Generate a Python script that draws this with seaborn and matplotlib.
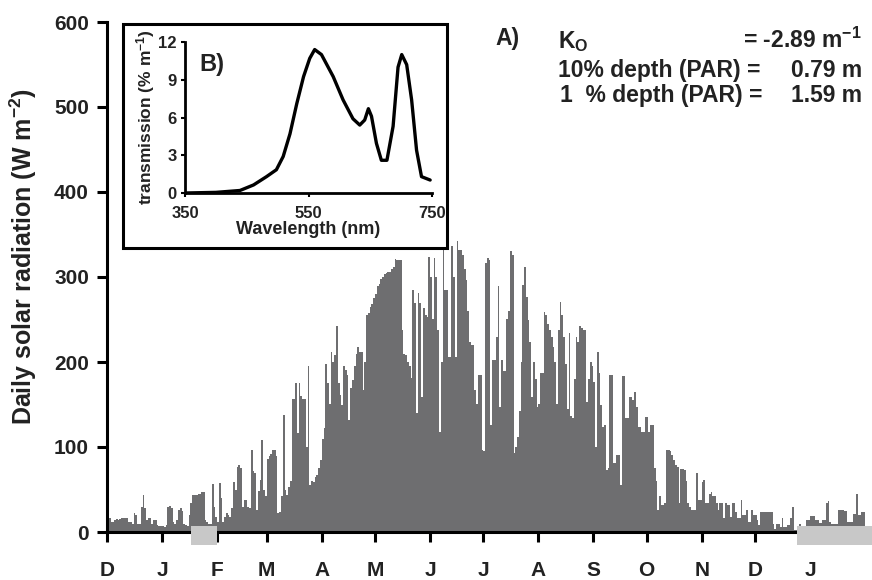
import numpy as np
import pandas as pd
import matplotlib
matplotlib.use("Agg")
import matplotlib.pyplot as plt
from matplotlib.patches import Rectangle
import seaborn as sns

# ---------------- data (daily solar radiation, W m-2) ----------------
dec_1 = [16, 16, 12, 12, 14, 15, 14, 15, 16, 17, 16, 16, 12, 12, 10, 22, 20, 10, 9, 30,
         43, 28, 14, 16, 17, 10, 14, 14, 8, 7, 7]
jan_1 = [7, 6, 8, 30, 31, 28, 12, 10, 14, 26, 28, 25, 9, 8, 7, 20, 34, 43, 44, 44,
         45, 45, 47, 47, 14, 12, 10, 10, 57, 30, 18]
feb_1 = [12, 58, 40, 12, 18, 22, 20, 18, 28, 59, 50, 76, 79, 75, 30, 38, 38, 30, 28, 96,
         72, 69, 26, 48, 61, 108, 50, 42]
mar_1 = [86, 90, 92, 96, 96, 90, 22, 24, 42, 138, 50, 44, 53, 60, 157, 157, 175, 116, 175, 160,
         157, 157, 100, 195, 55, 60, 59, 65, 67, 75, 85]
apr_1 = [110, 122, 198, 175, 151, 212, 200, 208, 242, 175, 161, 149, 195, 191, 185, 132, 170, 179, 195, 210,
         218, 212, 212, 167, 200, 255, 258, 265, 268, 275]
may_1 = [280, 289, 292, 298, 300, 304, 305, 306, 306, 310, 312, 321, 320, 320, 320, 238, 210, 208, 200, 195,
         181, 285, 270, 140, 281, 270, 159, 263, 255, 253, 323]
jun_1 = [300, 251, 322, 300, 238, 118, 200, 332, 285, 285, 206, 206, 336, 300, 206, 342, 332, 332, 326, 310,
         296, 260, 224, 220, 220, 167, 151, 185, 185, 96]
jul_1 = [95, 316, 322, 320, 126, 202, 202, 230, 289, 147, 202, 189, 189, 251, 260, 330, 326, 93, 100, 112,
         142, 200, 291, 312, 277, 250, 224, 159, 200, 180, 147]
aug_1 = [151, 187, 187, 259, 255, 245, 238, 230, 218, 200, 151, 238, 271, 255, 230, 198, 145, 234, 136, 134,
         180, 230, 224, 242, 240, 238, 238, 153, 180, 200, 195]
sep_1 = [177, 100, 212, 187, 150, 124, 126, 73, 75, 185, 185, 81, 81, 91, 91, 55, 183, 183, 134, 134,
         159, 159, 155, 165, 147, 124, 124, 118, 118, 135]
oct_1 = [135, 118, 126, 126, 75, 60, 26, 42, 32, 32, 34, 97, 97, 95, 91, 85, 79, 77, 34, 74,
         74, 73, 60, 34, 30, 26, 26, 26, 69, 38, 38]
nov_1 = [59, 61, 34, 34, 45, 47, 42, 42, 34, 26, 34, 34, 16, 34, 32, 32, 18, 34, 34, 24,
         16, 16, 38, 20, 20, 26, 12, 12, 26, 20]
dec_2 = [20, 14, 8, 24, 24, 24, 24, 24, 24, 24, 10, 4, 10, 10, 6, 16, 6, 6, 8, 8,
         17, 30, 2, 2, 0, 10, 4, 4, 4, 14, 14]
jan_2 = [19, 19, 19, 14, 14, 11, 11, 14, 14, 34, 36, 12, 10, 10, 10, 10, 26, 26, 26, 25,
         25, 12, 12, 12, 21, 21, 45, 20, 20, 24, 24]

months = [dec_1, jan_1, feb_1, mar_1, apr_1, may_1, jun_1, jul_1, aug_1, sep_1, oct_1, nov_1, dec_2, jan_2]
month_labels = ["D", "J", "F", "M", "A", "M", "J", "J", "A", "S", "O", "N", "D", "J"]

# ice-cover periods (start day, end day)
ice_start = [46.8, 388.2]
ice_end = [61.5, 432.0]

# inset B: transmission spectrum
wavelength = [350, 400, 439, 461, 482, 498, 509, 520, 531, 542, 552, 560, 571, 590, 606, 622,
              633, 641, 647, 652, 660, 668, 677, 687, 695, 701, 709, 717, 725, 733, 747]
transmission = [0.0, 0.05, 0.2, 0.64, 1.3, 1.85, 2.9, 4.7, 7.1, 9.25, 10.7, 11.4, 11.0, 9.25, 7.4, 5.9,
                5.4, 5.8, 6.7, 6.1, 3.95, 2.6, 2.6, 5.3, 10.0, 11.0, 10.2, 7.4, 3.4, 1.3, 1.03]

radiation = np.concatenate([np.array(m, dtype=float) for m in months])
days = np.arange(len(radiation))
df = pd.DataFrame({"day": days, "radiation": radiation})
month_starts = np.concatenate([[0], np.cumsum([len(m) for m in months])[:-1]]) - 0.5

# ---------------- style ----------------
sns.set_theme(style="ticks")
plt.rcParams["font.family"] = ["Liberation Sans", "DejaVu Sans"]
plt.rcParams["font.weight"] = "bold"
plt.rcParams["mathtext.fontset"] = "custom"
plt.rcParams["mathtext.rm"] = "Liberation Sans:bold"
plt.rcParams["mathtext.bf"] = "Liberation Sans:bold"
plt.rcParams["mathtext.it"] = "Liberation Sans:bold"
plt.rcParams["mathtext.default"] = "bf"

TXT = "#222222"
BAR = "#6e6e70"
ICE = "#c8c8c8"

W, H = 872, 580
fig = plt.figure(figsize=(W / 100, H / 100), dpi=100)

def fx(px):
    return px / W

def fy(py):
    return (H - py) / H

ax = fig.add_axes([fx(107), fy(532), fx(868) - fx(107), fy(22) - fy(532)])
sns.barplot(data=df, x="day", y="radiation", native_scale=True, width=1.0,
            color=BAR, saturation=1, linewidth=0, edgecolor="none", ax=ax)
ax.set_xlim(-0.5, 428.2)
ax.set_ylim(0, 600)
ax.set_yticks(np.arange(0, 601, 100))
ax.set_xticks(month_starts)
ax.set_xticklabels(month_labels)
ax.set_xlabel("")
ax.set_ylabel("Daily solar radiation (W m$^{-2}$)", fontsize=18, fontweight="bold", color=TXT)
ax.yaxis.set_label_coords(-0.09, 0.54)
for s in ["top", "right"]:
    ax.spines[s].set_visible(False)
for s in ["left", "bottom"]:
    ax.spines[s].set_linewidth(2.2)
    ax.spines[s].set_color("black")
ax.tick_params(axis="y", length=7, width=2.2, labelsize=15, colors="black", labelcolor=TXT, pad=6)
ax.tick_params(axis="x", length=7, width=2.2, labelsize=15, colors="black", labelcolor=TXT, pad=14)
for lab in ax.get_xticklabels() + ax.get_yticklabels():
    lab.set_fontweight("bold")

# ice-cover boxes under the axis
for s0, s1 in zip(ice_start, ice_end):
    ax.add_patch(Rectangle((s0, -15.3), s1 - s0, 22.3, transform=ax.transData,
                           facecolor=ICE, edgecolor="none", clip_on=False, zorder=5))

# annotations
FS = 16.5
fig.text(fx(495), fy(45), "A)", fontsize=FS, fontweight="bold", color=TXT, va="baseline")
fig.text(fx(558), fy(48), "K$_{\\mathrm{O}}$", fontsize=FS, fontweight="bold", color=TXT, va="baseline")
fig.text(fx(862), fy(48), "= -2.89 m$^{-1}$", fontsize=FS, fontweight="bold", color=TXT,
         va="baseline", ha="right")
fig.text(fx(558), fy(77), "10% depth (PAR) =", fontsize=FS, fontweight="bold", color=TXT, va="baseline")
fig.text(fx(862), fy(77), "0.79 m", fontsize=FS, fontweight="bold", color=TXT, va="baseline", ha="right")
fig.text(fx(560), fy(102), "1  % depth (PAR) =", fontsize=FS, fontweight="bold", color=TXT, va="baseline")
fig.text(fx(862), fy(102), "1.59 m", fontsize=FS, fontweight="bold", color=TXT, va="baseline", ha="right")

# inset frame
frame = Rectangle((fx(123), fy(248)), fx(447) - fx(123), fy(24) - fy(248), transform=fig.transFigure,
                  facecolor="white", edgecolor="black", linewidth=2.2, zorder=10)
fig.patches.append(frame)

axin = fig.add_axes([fx(185), fy(193), fx(432) - fx(185), fy(42) - fy(193)], zorder=11)
axin.patch.set_alpha(0)
sns.lineplot(x=wavelength, y=transmission, ax=axin, color="black", linewidth=2.4)
axin.set_xlim(350, 750)
axin.set_ylim(0, 12)
axin.set_xticks([350, 550, 750])
axin.set_yticks([0, 3, 6, 9, 12])
for s in ["top", "right"]:
    axin.spines[s].set_visible(False)
for s in ["left", "bottom"]:
    axin.spines[s].set_linewidth(2.0)
    axin.spines[s].set_color("black")
axin.tick_params(axis="both", length=3, width=1.5, labelsize=12, colors="black", labelcolor=TXT, pad=3)
axin.tick_params(axis="x", pad=6)
for lab in axin.get_xticklabels() + axin.get_yticklabels():
    lab.set_fontweight("bold")
axin.set_xlabel("Wavelength (nm)", fontsize=13, fontweight="bold", color=TXT, labelpad=0)
axin.set_ylabel("transmission (% m$^{-1}$)", fontsize=12.5, fontweight="bold", color=TXT, labelpad=1)
axin.text(0.06, 0.93, "B)", transform=axin.transAxes, fontsize=17, fontweight="bold", color=TXT,
          va="top", ha="left")

fig.savefig("out.png", dpi=100)
